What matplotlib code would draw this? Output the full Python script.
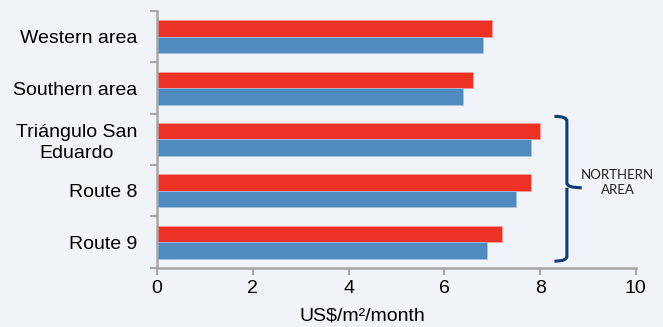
import matplotlib.pyplot as plt
import numpy as np
from matplotlib.path import Path
from matplotlib.patches import PathPatch

# Data
areas = ['Western area', 'Southern area', 'Triángulo San\nEduardo', 'Route 8', 'Route 9']
red_vals = [7.0, 6.6, 8.0, 7.8, 7.2]
blue_vals = [6.8, 6.4, 7.8, 7.5, 6.9]
xticks = [0, 2, 4, 6, 8, 10]

bg = '#f0f3f7'
red = '#ee3125'
blue = '#4f8bbf'
axis_grey = '#a6a6a6'
navy = '#0f3d6e'

plt.rcParams['font.family'] = ['Liberation Sans', 'DejaVu Sans']

fig = plt.figure(figsize=(6.63, 3.27), dpi=100, facecolor=bg)
ax = fig.add_axes([0.237, 0.181, 0.722, 0.785], facecolor=bg)

y = np.arange(len(areas))
h = 0.32
ax.barh(y - h / 2, red_vals, h, color=red, edgecolor='#f4a09a', linewidth=0.5)
ax.barh(y + h / 2, blue_vals, h, color=blue, edgecolor='#a9c4de', linewidth=0.5)

ax.set_ylim(len(areas) - 0.5, -0.5)
ax.set_xlim(0, 10)
ax.set_xticks(xticks)
ax.set_yticks(np.arange(len(areas) + 1) - 0.5, minor=False)
ax.set_yticklabels([])
ax.set_yticks(y, minor=True)
ax.set_yticklabels(areas, minor=True, fontsize=14, ha='right', linespacing=1.3)
for lbl in ax.get_yticklabels(minor=True):
    lbl.set_multialignment('center')
ax.tick_params(axis='y', which='minor', length=0, pad=14)
ax.tick_params(axis='y', which='major', length=5, width=1.5, color=axis_grey)
ax.tick_params(axis='x', length=5, width=1.5, color=axis_grey, labelsize=14, pad=4)

for side in ['top', 'right']:
    ax.spines[side].set_visible(False)
for side in ['left', 'bottom']:
    ax.spines[side].set_color(axis_grey)
    ax.spines[side].set_linewidth(1.8)

fig.text(362 / 663, 1 - 316 / 327, 'US$/m²/month', fontsize=14, ha='center', va='center')

# curly bracket grouping the northern routes
x0, xv, xt = 8.3, 8.56, 8.87
y0, ym, y1 = 1.55, 2.94, 4.37
r = 0.09
verts = [(x0, y0), (xv, y0), (xv, y0 + r),
         (xv, ym - r), (xv, ym), (xt, ym),
         (xv, ym), (xv, ym + r),
         (xv, y1 - r), (xv, y1), (x0, y1)]
codes = [Path.MOVETO, Path.CURVE3, Path.CURVE3,
         Path.LINETO, Path.CURVE3, Path.CURVE3,
         Path.MOVETO, Path.CURVE3,
         Path.LINETO, Path.CURVE3, Path.CURVE3]
ax.add_patch(PathPatch(Path(verts, codes), fill=False, edgecolor=navy,
                       linewidth=2.2, clip_on=False, capstyle='butt'))

ax.text(9.62, 2.84, 'NORTHERN\nAREA', fontsize=9.5, ha='center', va='center',
        family=['Lato', 'DejaVu Sans'], linespacing=1.3, color='#222222')

fig.savefig('out.png', dpi=100, facecolor=bg)
